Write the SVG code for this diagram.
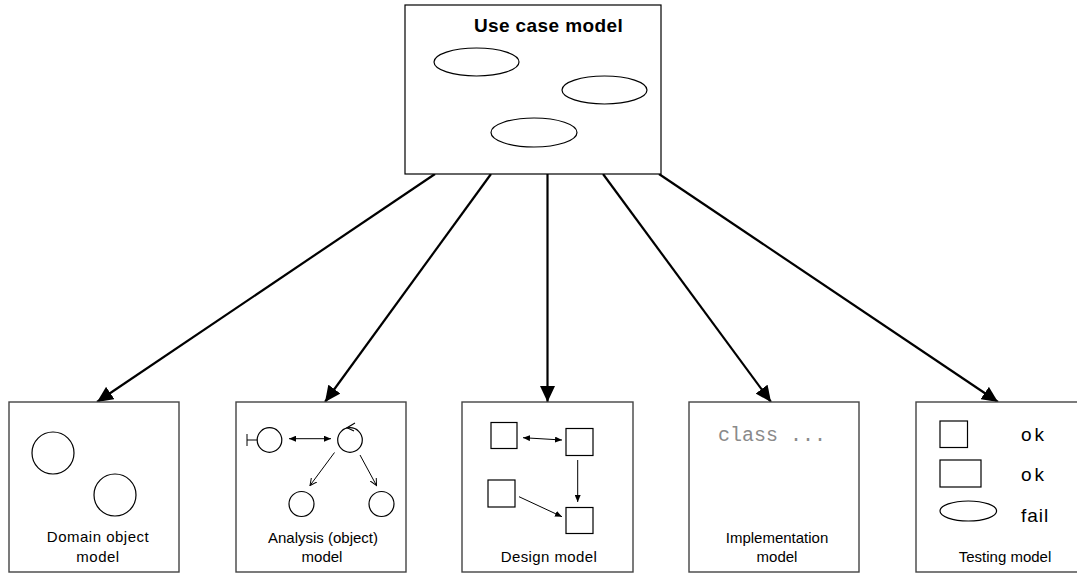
<svg xmlns="http://www.w3.org/2000/svg" width="1077" height="573" viewBox="0 0 1077 573">
<style>
.box{fill:#fff;stroke:#444;stroke-width:1.4}
.shape{fill:#fff;stroke:#000;stroke-width:1.2}
.lbl{font-family:"Liberation Sans",Arial,sans-serif;font-size:15px;fill:#000;text-anchor:middle}
.big{font-family:"Liberation Sans",Arial,sans-serif;font-size:19px;fill:#000}
.main{stroke:#000;stroke-width:2.2;fill:none;marker-end:url(#big)}
.thin{stroke:#000;stroke-width:1;fill:none}
</style>
<defs>
<marker id="big" markerUnits="userSpaceOnUse" markerWidth="16" markerHeight="15" refX="16" refY="7.5" orient="auto">
<path d="M0,0 L16,7.5 L0,15 z" fill="#000"/>
</marker>
<marker id="sm" markerUnits="userSpaceOnUse" markerWidth="7" markerHeight="6" refX="7" refY="3" orient="auto">
<path d="M0,0 L7,3 L0,6 z" fill="#000"/>
</marker>
<marker id="smr" markerUnits="userSpaceOnUse" markerWidth="7" markerHeight="6" refX="0" refY="3" orient="auto">
<path d="M7,0 L0,3 L7,6 z" fill="#000"/>
</marker>
<marker id="open" markerUnits="userSpaceOnUse" markerWidth="8" markerHeight="8" refX="7" refY="4" orient="auto">
<path d="M0,0.5 L7,4 L0,7.5" fill="none" stroke="#000" stroke-width="1"/>
</marker>
</defs>
<rect width="1077" height="573" fill="#fff"/>
<g id="connectors">
<line class="main" x1="435" y1="174" x2="97" y2="402"/>
<line class="main" x1="491" y1="174" x2="325" y2="402"/>
<line class="main" x1="547.5" y1="174" x2="547.5" y2="402"/>
<line class="main" x1="603" y1="174" x2="771" y2="402"/>
<line class="main" x1="659" y1="174" x2="998" y2="402"/>
</g>
<g id="use-case-model">
<rect x="405" y="5" width="256" height="169" fill="#fff" stroke="#000" stroke-width="1.2"/>
<text class="big" x="548.5" y="31.5" text-anchor="middle" font-weight="bold" letter-spacing="0.4">Use case model</text>
<ellipse class="shape" cx="476.5" cy="62" rx="42.5" ry="14"/>
<ellipse class="shape" cx="604.5" cy="90" rx="42.5" ry="14"/>
<ellipse class="shape" cx="534" cy="132.5" rx="43" ry="14.5"/>
</g>
<g id="domain-object-model">
<rect class="box" x="9" y="402" width="170" height="170"/>
<circle class="shape" cx="53" cy="453" r="21"/>
<circle class="shape" cx="115" cy="495" r="21"/>
<text class="lbl" x="98" y="542" letter-spacing="0.5">Domain object</text>
<text class="lbl" x="98" y="561.5" letter-spacing="0.5">model</text>
</g>
<g id="analysis-model">
<rect class="box" x="236" y="402" width="170" height="170"/>
<circle class="shape" cx="269.5" cy="440" r="12.3"/>
<line class="thin" x1="247" y1="440" x2="257.2" y2="440"/>
<line class="thin" x1="247" y1="434" x2="247" y2="446"/>
<line class="thin" x1="289" y1="438.7" x2="331" y2="438.7" marker-start="url(#smr)" marker-end="url(#sm)"/>
<circle class="shape" cx="350" cy="440" r="12.3"/>
<path d="M355,423 L347,427.7 L354,431" fill="none" stroke="#000" stroke-width="1.1"/>
<line class="thin" x1="334.5" y1="452.5" x2="310" y2="485.5" marker-end="url(#open)"/>
<line class="thin" x1="360" y1="455" x2="376.5" y2="485.5" marker-end="url(#open)"/>
<circle class="shape" cx="301.5" cy="504" r="12.5"/>
<circle class="shape" cx="381.5" cy="504" r="12.5"/>
<text class="lbl" x="323" y="543">Analysis (object)</text>
<text class="lbl" x="322" y="561.5">model</text>
</g>
<g id="design-model">
<rect class="box" x="462" y="402" width="171" height="170"/>
<rect class="shape" x="491" y="422.5" width="26" height="26"/>
<line class="thin" x1="523" y1="437.7" x2="562" y2="440" marker-start="url(#smr)" marker-end="url(#sm)"/>
<rect class="shape" x="566" y="428.5" width="27" height="27"/>
<line class="thin" x1="577.7" y1="460" x2="577.7" y2="502" marker-end="url(#sm)"/>
<rect class="shape" x="488" y="480" width="27" height="27"/>
<line class="thin" x1="519" y1="496.7" x2="562" y2="516.7" marker-end="url(#sm)"/>
<rect class="shape" x="566" y="507.5" width="27" height="26"/>
<text class="lbl" x="549" y="561.5" letter-spacing="0.4">Design model</text>
</g>
<g id="implementation-model">
<rect class="box" x="689" y="402" width="170" height="170"/>
<text x="718" y="440.5" font-family="Liberation Mono,Courier New,monospace" font-size="20" fill="#8a8a8a">class ...</text>
<text class="lbl" x="777" y="543">Implementation</text>
<text class="lbl" x="777" y="561.5">model</text>
</g>
<g id="testing-model">
<rect class="box" x="916" y="402" width="172" height="170"/>
<rect class="shape" x="940" y="421" width="27.5" height="26.5"/>
<rect class="shape" x="940" y="460" width="41" height="27"/>
<ellipse class="shape" cx="968.3" cy="511" rx="28.3" ry="10"/>
<text class="big" x="1021" y="441" font-size="20" letter-spacing="3">ok</text>
<text class="big" x="1021" y="480.5" font-size="20" letter-spacing="3">ok</text>
<text class="big" x="1021" y="521.5" font-size="20" letter-spacing="1">fail</text>
<text class="lbl" x="1005" y="561.5">Testing model</text>
</g>
</svg>
